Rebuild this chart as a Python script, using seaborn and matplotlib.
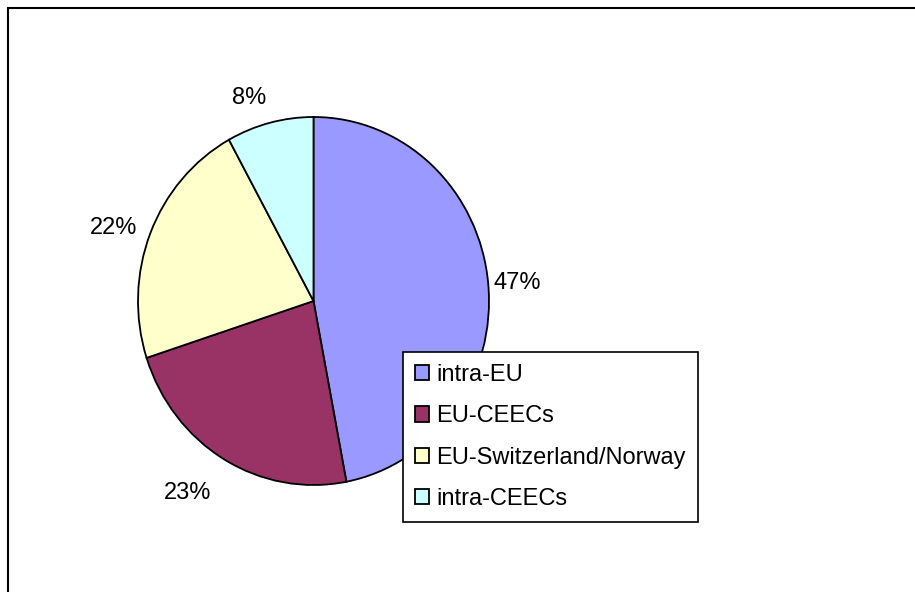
import matplotlib
matplotlib.use("Agg")
import numpy as np
import matplotlib.pyplot as plt
import seaborn as sns
from matplotlib.patches import Rectangle

# dati (quota percentuale dei flussi)
categories = ["intra-EU", "EU-CEECs", "EU-Switzerland/Norway", "intra-CEECs"]
shares = [47, 23, 22, 8]
colori = ["#9999FF", "#993366", "#FFFFCC", "#CCFFFF"]

sns.set_theme(style="white")
plt.rcParams['font.family'] = ['Liberation Sans', 'DejaVu Sans']

fig = plt.figure(figsize=(9.15, 5.92), dpi=100)
W, H = 915, 592

# assi = riquadro della torta in pixel
ax = fig.add_axes([138 / W, (H - 485) / H, 351 / W, 368 / H])
wedges, texts, autotexts = ax.pie(
    shares,
    colors=sns.color_palette(colori),
    startangle=90,
    counterclock=False,
    autopct=lambda p: f"{p:.0f}%",
    pctdistance=1.2,
    wedgeprops=dict(edgecolor="black", linewidth=1.3),
    textprops=dict(fontsize=17, color="black"),
)
ax.set_aspect("auto")
ax.set_xlim(-1, 1)
ax.set_ylim(-1, 1)

# etichette come in Excel: ancorate fuori dal bordo
for w, t in zip(wedges, autotexts):
    ang = np.deg2rad((w.theta1 + w.theta2) / 2)
    c, s = np.cos(ang), np.sin(ang)
    va = "bottom" if s > 0.7 else ("top" if s < -0.7 else "center")
    r = 1.14 if va == "top" else (1.03 if c > 0 else 1.08)
    t.set_position((r * c, r * s))
    t.set_ha("left" if c > 0 else "right")
    t.set_va(va)

leg = fig.legend(
    wedges, categories,
    loc="upper left",
    bbox_to_anchor=(403 / W, 1 - 352 / H),
    frameon=True, fancybox=False, framealpha=1,
    fontsize=17,
    handlelength=0.62, handleheight=0.62, handletextpad=0.3,
    labelspacing=0.82, borderpad=0.5, borderaxespad=0,
)
leg.get_frame().set_edgecolor("black")
leg.get_frame().set_linewidth(1.2)
for h in leg.legend_handles:
    h.set_edgecolor("black")
    h.set_linewidth(1.3)
for t in leg.get_texts():
    t.set_color("black")

# bordo esterno del grafico
fig.patches.append(Rectangle((7.5 / W, -0.1), 1.2, 1.1 - 7.5 / H,
                             transform=fig.transFigure, fill=False,
                             edgecolor="black", linewidth=1.5))

fig.savefig("out.png", dpi=100)
